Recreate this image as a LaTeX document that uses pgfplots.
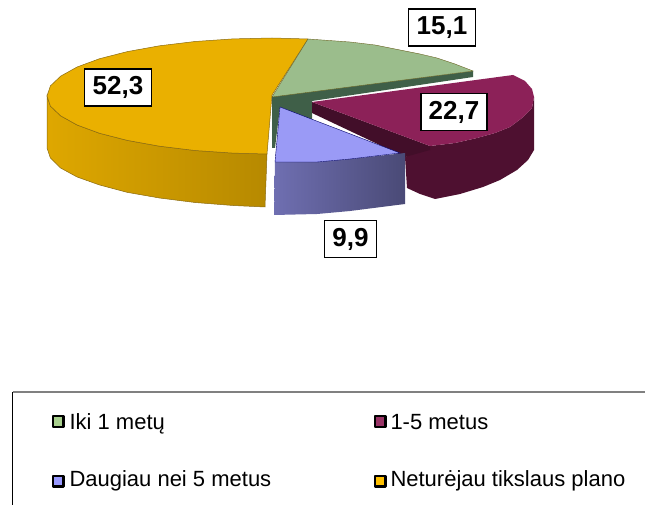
\documentclass[border=0pt]{standalone}
\usepackage{pgfplots}
\pgfplotsset{compat=1.18}
\usepackage{fontspec}
\setmainfont{Liberation Sans}
\definecolor{ygTop}{HTML}{EAB000}
\definecolor{ygEdge}{HTML}{8A6A10}
\definecolor{grTop}{HTML}{9BBD8C}
\definecolor{grDark}{HTML}{3F5F48}
\definecolor{puTop}{HTML}{8C2158}
\definecolor{puSide}{HTML}{4E1030}
\definecolor{blTop}{HTML}{9A9AF6}
\definecolor{swGr}{HTML}{A8D08D}
\definecolor{swPu}{HTML}{993366}
\definecolor{swBl}{HTML}{9999FF}
\definecolor{swYg}{HTML}{FFC000}
\newcommand{\lab}[3]{\node[draw=black,line width=1.8pt,fill=white,inner sep=0pt,minimum width=#3pt,minimum height=37pt,font=\fontsize{26}{26}\selectfont\bfseries,text=black] at (axis cs:#1) {#2};}
\newcommand{\leg}[2]{\node[anchor=base west,inner sep=0pt,font=\fontsize{22}{22}\selectfont,text=black] at (axis cs:#1) {#2};}
\begin{document}
\begin{tikzpicture}
\begin{axis}[scale only axis,width=645pt,height=505pt,xmin=0,xmax=645,ymin=0,ymax=505,y dir=reverse,hide axis]
\path (axis cs:0,0) rectangle (axis cs:645,505);
% orange slice 52,3: side, top
\addplot[left color=ygTop!95!black,middle color=ygTop!95!black,right color=ygTop!78!black,draw=ygEdge,line width=0.5pt] coordinates {(47,96)(50.4,106.1)(60.6,115.8)(77.1,125)(99.6,133.3)(127.4,140.4)(159.5,146.2)(195,150.5)(233,153.1)(267,154)(265,207)(233,205.5)(195,202.5)(159.5,198)(127.4,192.4)(99.6,185)(77.1,177)(60.6,168)(50.4,158)(47,148)} -- cycle;
\addplot[fill=ygTop,draw=ygEdge,line width=0.5pt] coordinates {(47,96)(50.4,85.9)(60.6,76.2)(77.1,67)(99.6,58.7)(127.4,51.6)(159.5,45.8)(195,41.5)(233,38.9)(272,38)(308,39)(272,95)(267,154)(233,153.1)(195,150.5)(159.5,146.2)(127.4,140.4)(99.6,133.3)(77.1,125)(60.6,115.8)(50.4,106.1)} -- cycle;
% green slice 15,1: inner faces, top
\addplot[fill=grDark,draw=none] coordinates {(272,96)(473,71)(473,77)(312,101)(312,120)(280,107)(275,148)(272,148)} -- cycle;
\addplot[fill=grTop,draw=ygEdge!60!grDark,line width=0.4pt] coordinates {(272,97)(308,39)(350,42)(375,45)(400,50)(420,54)(437,58)(455,64)(473,71)} -- cycle;
% purple slice 22,7: outer side, inner face, top
\addplot[fill=puSide,draw=none] coordinates {(430,146)(455,143)(477,138)(495,133)(510,127)(522,118)(532,108)(534,97)(534,150)(528,160)(517,170)(500,180)(483,187)(460,194)(435,199)(420,194)(407,188)(405,157)} -- cycle;
\addplot[fill=puSide!85!black,draw=none] coordinates {(312,102)(312,113)(405,157)(430,150)(430,146)} -- cycle;
\addplot[fill=puTop,draw=none] coordinates {(312,102)(513,75)(525,81)(532,89)(534,97)(532,108)(522,118)(510,127)(495,133)(477,138)(455,143)(430,146)} -- cycle;
% blue slice 9,9: side, top
\addplot[left color=blTop!72!black,middle color=blTop!66!black,right color=blTop!48!black,draw=none] coordinates {(275,162)(317,162)(350,159)(405,153)(405,204)(350,211)(317,214)(274,215)} -- cycle;
\addplot[fill=blTop,draw=blue!40!black,line width=0.4pt] coordinates {(280,107)(400,153)(350,159)(317,162)(275,162)} -- cycle;
% legend frame
\addplot[draw=gray,line width=1.4pt] coordinates {(12.5,392)(645,392)};
\addplot[draw=black,line width=0.8pt] coordinates {(12.5,392)(12.5,505)};
% legend swatches
\addplot[only marks,mark=square*,mark size=5.4pt,mark options={fill=swGr,draw=black,line width=2.2pt,line join=round}] coordinates {(58,421.7)};
\addplot[only marks,mark=square*,mark size=5.4pt,mark options={fill=swPu,draw=black,line width=2.2pt,line join=round}] coordinates {(380,421.7)};
\addplot[only marks,mark=square*,mark size=5.4pt,mark options={fill=swBl,draw=black,line width=2.2pt,line join=round}] coordinates {(58,481)};
\addplot[only marks,mark=square*,mark size=5.4pt,mark options={fill=swYg,draw=black,line width=2.2pt,line join=round}] coordinates {(380,481)};
\leg{69.3,429.3}{Iki 1 metų}
\leg{390.3,429.3}{1-5 metus}
\leg{69.3,486.7}{Daugiau nei 5 metus}
\leg{390.3,486.7}{Neturėjau tikslaus plano}
\lab{118,87.5}{52,3}{67}
\lab{442,27.5}{15,1}{67}
\lab{454,112}{22,7}{66}
\lab{350.5,239}{9,9}{52}
\end{axis}
\end{tikzpicture}
\end{document}
